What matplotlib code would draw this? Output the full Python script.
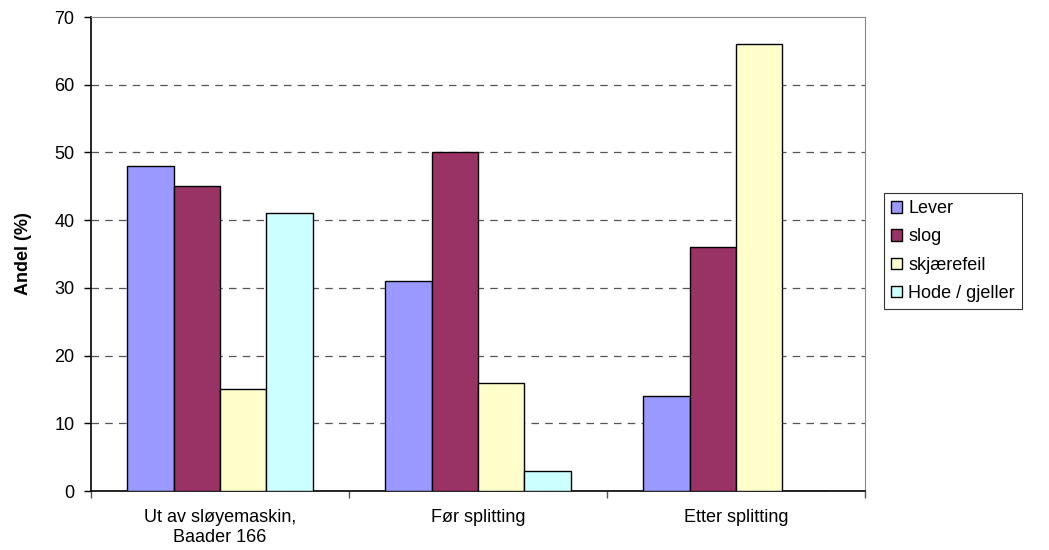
import matplotlib.pyplot as plt
import numpy as np

categories = ["Ut av sløyemaskin,\nBaader 166", "Før splitting", "Etter splitting"]
series_names = ["Lever", "slog", "skjærefeil", "Hode / gjeller"]
lever = [48, 31, 14]
slog = [45, 50, 36]
skjaerefeil = [15, 16, 66]
hode = [41, 3, 0]
colors = ["#9999FF", "#993366", "#FFFFCC", "#CCFFFF"]
yticks = [0, 10, 20, 30, 40, 50, 60, 70]

plt.rcParams["font.family"] = ["Liberation Sans", "DejaVu Sans"]

fig = plt.figure(figsize=(10.49, 5.5), dpi=100)
ax = fig.add_axes([91 / 1049, 59 / 550, 774 / 1049, 474 / 550])

x = np.arange(len(categories))
width = 0.18
all_series = [lever, slog, skjaerefeil, hode]
for i, (name, vals) in enumerate(zip(series_names, all_series)):
    ax.bar(x + (i - 1.5) * width, vals, width, color=colors[i],
           edgecolor="black", linewidth=1.0, label=name, zorder=3)

ax.set_xlim(-0.5, len(categories) - 0.5)
ax.set_ylim(0, 70)
ax.set_yticks(yticks)
ax.tick_params(axis="y", labelsize=13, length=5, width=1, pad=7, direction="out")

# category boundaries as major ticks, labels on minor ticks
ax.set_xticks(np.arange(-0.5, len(categories), 1.0))
ax.set_xticklabels([])
ax.set_xticks(x, minor=True)
ax.set_xticklabels(categories, minor=True, fontsize=13, linespacing=1.2)
ax.tick_params(axis="x", which="major", length=5, width=1, direction="out", color="#555555")
ax.tick_params(axis="x", which="minor", length=0, pad=13)

for y in yticks[1:-1]:
    ax.axhline(y, color="#555555", linestyle=(0, (6, 5)), linewidth=0.9, zorder=1)

for side in ["top", "right"]:
    ax.spines[side].set_color("#888888")
for side in ["left", "bottom"]:
    ax.spines[side].set_color("black")
    ax.spines[side].set_linewidth(1.2)

ax.set_ylabel("Andel (%)", fontsize=13, fontweight="bold")
ax.yaxis.set_label_coords(-0.076, 0.5)

leg = ax.legend(loc="upper left", bbox_to_anchor=(884 / 1049, 357 / 550),
                bbox_transform=fig.transFigure, frameon=True, fancybox=False,
                fontsize=13, handlelength=0.6, handleheight=0.6,
                handletextpad=0.35, labelspacing=0.62, borderpad=0.4,
                borderaxespad=0)
leg.get_frame().set_edgecolor("black")
leg.get_frame().set_linewidth(0.8)

fig.savefig("out.png", dpi=100)
